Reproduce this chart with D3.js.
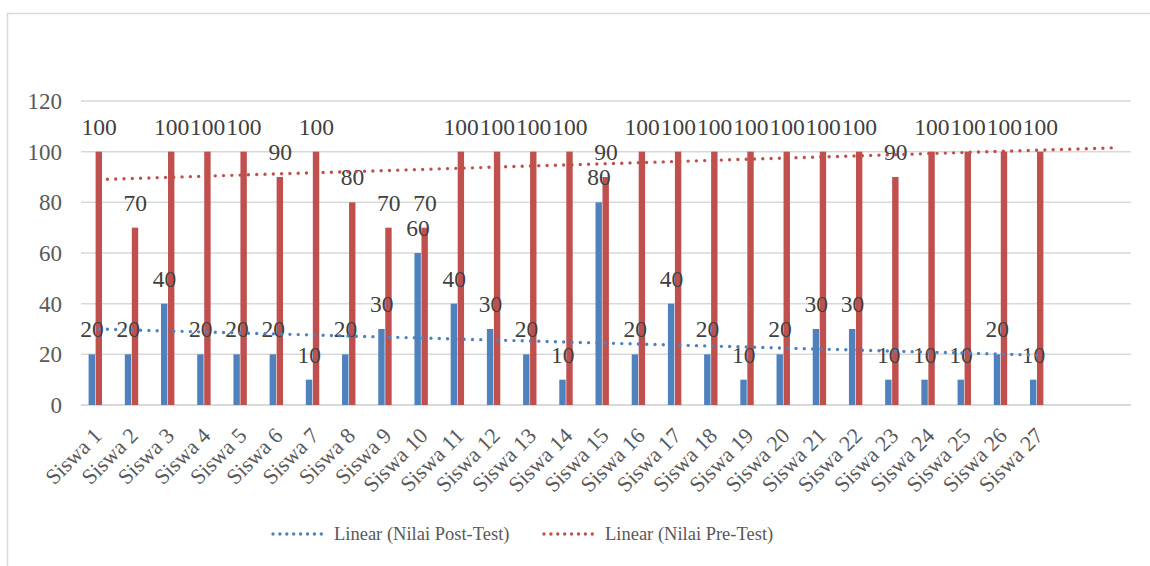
<!DOCTYPE html>
<html>
<head>
<meta charset="utf-8">
<script src="https://cdn.jsdelivr.net/npm/d3@7"></script>
<style>
    body { margin: 0; background: #fff; }
    text { font-family: "Liberation Serif", "DejaVu Serif", serif; fill: #595959; }
</style>
</head>
<body>
<svg id="chart" width="1150" height="566"></svg>
<script>
const categories = ["Siswa 1", "Siswa 2", "Siswa 3", "Siswa 4", "Siswa 5", "Siswa 6", "Siswa 7",
    "Siswa 8", "Siswa 9", "Siswa 10", "Siswa 11", "Siswa 12", "Siswa 13", "Siswa 14", "Siswa 15",
    "Siswa 16", "Siswa 17", "Siswa 18", "Siswa 19", "Siswa 20", "Siswa 21", "Siswa 22", "Siswa 23",
    "Siswa 24", "Siswa 25", "Siswa 26", "Siswa 27"];

const postTest = [20, 20, 40, 20, 20, 20, 10, 20, 30, 60, 40, 30, 20, 10, 80,
                  20, 40, 20, 10, 20, 30, 30, 10, 10, 10, 20, 10];
const preTest = [100, 70, 100, 100, 100, 90, 100, 80, 70, 70, 100, 100, 100, 100, 90,
                 100, 100, 100, 100, 100, 100, 100, 90, 100, 100, 100, 100];

const yTicks = [0, 20, 40, 60, 80, 100, 120];
const legendLabels = ["Linear (Nilai Post-Test)", "Linear (Nilai Pre-Test)"];

const colours = { post: "#4f81bd", pre: "#c0504d", grid: "#d9d9d9" };

const svg = d3.select("#chart");

// chart frame (Excel style, runs off the right / bottom edge)
svg.append("rect")
   .attr("x", 7.5).attr("y", 13.5)
   .attr("width", 1200).attr("height", 600)
   .style("fill", "none")
   .style("stroke", colours.grid)
   .style("stroke-width", 1.5);

const plot = { left: 81, right: 1131, top: 101, bottom: 405 };
const slots = categories.length + 2; // two empty slots on the right (trend forecast)
const step = (plot.right - plot.left) / slots;

const x = d3.scaleBand()
            .domain(categories)
            .range([plot.left, plot.left + step * categories.length])
            .paddingInner(0.42)
            .paddingOuter(0.21);

// third key is an empty series in the workbook, it still takes up room in each cluster
const xSeries = d3.scaleBand()
                  .domain(["post", "pre", "empty"])
                  .range([0, x.bandwidth()]);

const y = d3.scaleLinear()
            .domain([0, 120])
            .range([plot.bottom, plot.top]);

// gridlines
svg.append("g")
   .selectAll("line")
   .data(yTicks)
   .enter()
   .append("line")
   .attr("x1", plot.left).attr("x2", plot.right)
   .attr("y1", d => y(d)).attr("y2", d => y(d))
   .style("stroke", colours.grid)
   .style("stroke-width", d => d === 0 ? 2 : 1.5);

svg.append("g")
   .selectAll("text")
   .data(yTicks)
   .enter()
   .append("text")
   .attr("x", 62)
   .attr("y", d => y(d))
   .attr("dy", "0.35em")
   .attr("text-anchor", "end")
   .style("font-size", "23px")
   .text(d => d);

const series = [
    { key: "post", values: postTest, colour: colours.post },
    { key: "pre", values: preTest, colour: colours.pre }
];

series.forEach(s => {
    const g = svg.append("g").attr("class", "series series-" + s.key);

    g.selectAll("rect")
     .data(s.values)
     .enter()
     .append("rect")
     .attr("x", (d, i) => x(categories[i]) + xSeries(s.key))
     .attr("width", xSeries.bandwidth() - 0.6)
     .attr("y", d => y(d))
     .attr("height", d => y(0) - y(d))
     .style("fill", s.colour);
});

// data labels drawn after all bars so they sit on top
series.forEach(s => {
    svg.append("g")
       .selectAll("text")
       .data(s.values)
       .enter()
       .append("text")
       .attr("x", (d, i) => x(categories[i]) + xSeries(s.key) + xSeries.bandwidth() / 2)
       .attr("y", d => y(d) - 17)
       .attr("text-anchor", "middle")
       .style("font-size", "23.5px")
       .style("fill", "#404040")
       .text(d => d);
});

// linear trendlines (least squares on 1..n), pre-test forecast forward 2 periods
const centre = d3.scaleLinear()
                 .domain([1, categories.length])
                 .range([x(categories[0]) + x.bandwidth() / 2,
                         x(categories[categories.length - 1]) + x.bandwidth() / 2]);

function fit(values) {
    const xs = values.map((d, i) => i + 1);
    const mx = d3.mean(xs), my = d3.mean(values);
    const slope = d3.sum(xs, (v, i) => (v - mx) * (values[i] - my)) / d3.sum(xs, v => (v - mx) * (v - mx));
    return t => my + slope * (t - mx);
}

const trends = [
    { values: postTest, colour: colours.post, forward: 0 },
    { values: preTest, colour: colours.pre, forward: 2 }
];

trends.forEach(t => {
    const f = fit(t.values);
    const end = t.values.length + t.forward;
    svg.append("line")
       .attr("x1", centre(1)).attr("y1", y(f(1)))
       .attr("x2", centre(end)).attr("y2", y(f(end)))
       .style("stroke", t.colour)
       .style("stroke-width", 3.4)
       .style("stroke-linecap", "round")
       .style("stroke-dasharray", "0 8.3");
});

// category labels
svg.append("g")
   .selectAll("text")
   .data(categories)
   .enter()
   .append("text")
   .attr("transform", d => "translate(" + (x(d) + x.bandwidth() / 2 + 4) + ",437) rotate(-45)")
   .attr("text-anchor", "end")
   .style("font-size", "22px")
   .text(d => d);

// legend
const legend = svg.append("g").attr("class", "legend");
const legendItems = [
    { label: legendLabels[0], colour: colours.post, x: 273 },
    { label: legendLabels[1], colour: colours.pre, x: 544 }
];

legendItems.forEach(item => {
    legend.append("line")
          .attr("x1", item.x).attr("x2", item.x + 55)
          .attr("y1", 534).attr("y2", 534)
          .style("stroke", item.colour)
          .style("stroke-width", 3.4)
          .style("stroke-linecap", "round")
          .style("stroke-dasharray", "0 6.9");

    legend.append("text")
          .attr("x", item.x + 61)
          .attr("y", 534)
          .attr("dy", "0.35em")
          .style("font-size", "18.5px")
          .text(item.label);
});
</script>
</body>
</html>
